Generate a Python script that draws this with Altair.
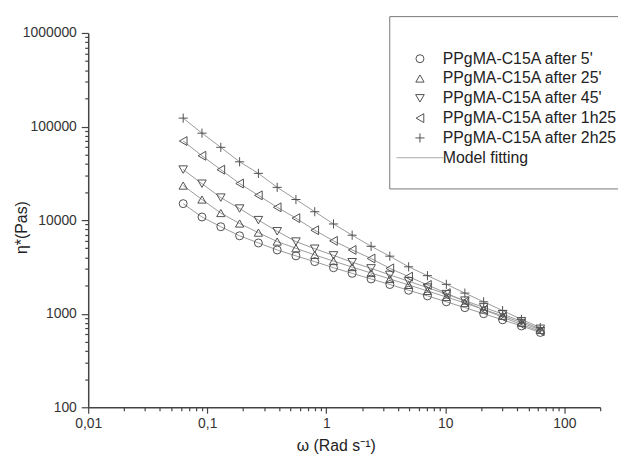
import altair as alt
import pandas as pd

# angular frequency (rad/s)
omega = [0.0628, 0.0903, 0.130, 0.187, 0.269, 0.387, 0.556, 0.800, 1.15, 1.65,
         2.38, 3.42, 4.92, 7.08, 10.2, 14.6, 21.0, 30.3, 43.6, 62.8]

eta_5 = [15000, 10800, 8500, 6800, 5700, 4800, 4150, 3600, 3100, 2700,
         2350, 2050, 1780, 1550, 1340, 1160, 1000, 860, 740, 630]
eta_25 = [23400, 16600, 11900, 9200, 7350, 5900, 5000, 4250, 3650, 3150,
          2720, 2350, 2030, 1750, 1510, 1300, 1110, 950, 800, 670]
eta_45 = [34700, 24500, 17400, 13300, 10000, 7600, 5900, 4950, 4200, 3550,
          3050, 2600, 2220, 1900, 1620, 1380, 1170, 990, 830, 690]
eta_1h25 = [70000, 48700, 34600, 24600, 18400, 13700, 10500, 7800, 6000, 4800,
            3890, 3050, 2490, 2030, 1660, 1350, 1100, 920, 765, 650]
eta_2h25 = [123000, 85000, 60000, 42000, 31600, 22400, 16600, 12300, 9100, 6900,
            5250, 4120, 3170, 2550, 2060, 1660, 1340, 1080, 870, 710]

series_names = ["PPgMA-C15A after 5'", "PPgMA-C15A after 25'", "PPgMA-C15A after 45'",
                "PPgMA-C15A after 1h25", "PPgMA-C15A after 2h25"]
legend_names = series_names + ["Model fitting"]
series_values = [eta_5, eta_25, eta_45, eta_1h25, eta_2h25]

rows = []
for name, vals in zip(series_names, series_values):
    for w, v in zip(omega, vals):
        rows.append({"series": name, "omega": w, "eta": v})
df = pd.DataFrame(rows)

x_major = [0.01, 0.1, 1, 10, 100]
x_ticks = [round(d * m, 6) for d in x_major for m in range(1, 10)] + [200]
y_major = [100, 1000, 10000, 100000, 1000000]
y_ticks = [d * m for d in y_major[:-1] for m in range(1, 10)] + [1000000]

x_test = "indexof([0.01,0.1,1,10,100], datum.value) >= 0"
y_test = "indexof([100,1000,10000,100000,1000000], datum.value) >= 0"

shapes = ["circle", "triangle-up", "triangle-down", "triangle-left",
          "M-1,0L1,0M0,-1L0,1", "M-5,0L5,0"]
colors = ["#505050"] * 5 + ["#aaaaaa"]
sizes = [65, 90, 90, 90, 85, 40]

x_axis = alt.Axis(
    values=x_ticks,
    labelExpr=f"{x_test} ? replace(format(datum.value, '~g'), '.', ',') : ''",
    tickSize={"condition": {"test": x_test, "value": 6}, "value": 3.5},
    title="ω (Rad s⁻¹)",
    titleX=250, titleY=39, titleBaseline="middle",
    labelPadding=3, labelFlush=False, labelOverlap=False,
)
y_axis = alt.Axis(
    values=y_ticks,
    labelExpr=f"{y_test} ? format(datum.value, 'd') : ''",
    tickSize={"condition": {"test": y_test, "value": 7}, "value": 3.5},
    title="η*(Pas)",
    titleX=-67, titleY=196, titleAngle=270, titleAlign="center", titleBaseline="middle",
    labelPadding=5, labelFlush=False, labelOverlap=False,
)

leg = alt.Legend(
    orient="none", legendX=304, legendY=-17, padding=23,
    strokeColor="#777777", fillColor="white",
    labelFontSize=16, labelOffset=15, labelLimit=0, labelColor="#222222",
    rowPadding=4, symbolSize=45, symbolStrokeWidth=1,
    titleFontSize=6, titlePadding=6,
)

lines = alt.Chart(df).mark_line(color="#9a9a9a", strokeWidth=1).encode(
    x=alt.X("omega:Q", scale=alt.Scale(type="log", domain=[0.01, 200]), axis=x_axis),
    y=alt.Y("eta:Q", scale=alt.Scale(type="log", domain=[100, 1000000]), axis=y_axis),
    detail="series:N",
)

points = alt.Chart(df).mark_point(filled=False, strokeWidth=1, opacity=1).encode(
    x=alt.X("omega:Q", scale=alt.Scale(type="log", domain=[0.01, 200]), axis=x_axis),
    y=alt.Y("eta:Q", scale=alt.Scale(type="log", domain=[100, 1000000]), axis=y_axis),
    shape=alt.Shape("series:N", scale=alt.Scale(domain=legend_names, range=shapes),
                    legend=leg, title=" "),
    color=alt.Color("series:N", scale=alt.Scale(domain=legend_names, range=colors),
                    legend=leg, title=" "),
    size=alt.Size("series:N", scale=alt.Scale(domain=legend_names, range=sizes), legend=None),
)

chart = alt.layer(lines, points).properties(
    width=517, height=378,
    autosize=alt.AutoSizeParams(type="none"),
    padding={"left": 81, "top": 23, "right": 18, "bottom": 48},
).configure(
    font="Liberation Sans",
).configure_view(
    stroke=None,
).configure_axis(
    grid=False, domainColor="#444444", domainWidth=1.5, tickColor="#444444",
    tickWidth=1.2, labelFontSize=14, labelColor="#333333", titleFontSize=16,
    titleFontWeight="normal", titleColor="#222222",
)

chart.save("out.html", embed_options={"renderer": "svg", "actions": False})
